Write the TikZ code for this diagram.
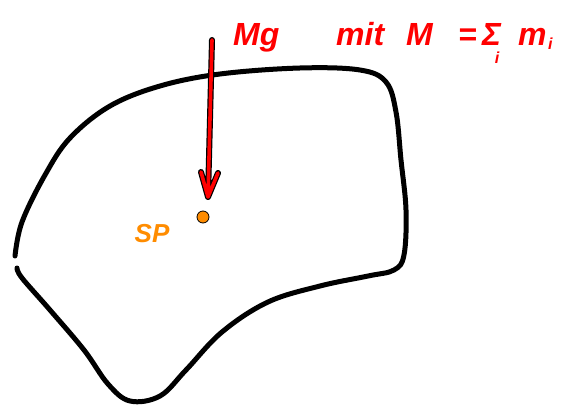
\documentclass[tikz,border=0pt]{standalone}
\usepackage{fontspec}
\setmainfont{Liberation Sans}
\begin{document}
\begin{tikzpicture}[x=1pt,y=-1pt,
  outline/.style={line width=5pt,black,line cap=round,line join=round},
  redback/.style={line width=6pt,black,line cap=round,line join=round},
  redfront/.style={line width=3.6pt,red,line cap=round,line join=round},
  redtext/.style={text=red,font=\bfseries\itshape\fontsize{32}{34}\selectfont,inner sep=0pt},
  redsmall/.style={text=red,font=\bfseries\itshape\fontsize{16}{18}\selectfont,inner sep=0pt},
  orangetext/.style={text=orange!90!yellow,font=\bfseries\itshape\fontsize{26}{28}\selectfont,inner sep=0pt}]
\useasboundingbox (0,0) rectangle (573,406);
% body outline
\draw[outline] plot[smooth,tension=0.6] coordinates {
 (15,256) (22,222) (45,175) (70,138) (110,106) (160,86) (220,74) (300,68)
 (360,70) (386,82) (396,112) (401,160) (406,210) (404,255) (394,270) (368,276)
 (320,286) (268,302) (222,332) (186,370) (160,396) (130,401) (108,384)
 (84,350) (50,310) (22,278) (17,268)};
% arrow
\coordinate (atop) at (212,40);
\coordinate (atip) at (208,197);
\coordinate (al) at (201,172);
\coordinate (ar) at (218,173);
\draw[redback] (atop) -- (atip) (al) -- (atip) -- (ar);
\draw[redfront] (atop) -- (atip) (al) -- (atip) -- (ar);
% centre of mass
\node[circle,fill=orange!90!yellow,draw=black,line width=0.8pt,minimum size=12pt,inner sep=0pt] (sp) at (203,217) {};
\node[orangetext] (splabel) at (152,234) {SP};
% texts
\node[redtext,anchor=base west] (mg) at (233,46) {Mg};
\node[redtext,anchor=base west] (mit) at (336,46) {mit};
\node[redtext,anchor=base west] (bigm) at (406,46) {M};
\node[redtext,anchor=base west] (eq) at (458,46) {=};
\node[redtext,anchor=base west] (sum) at (482,46) {Σ};
\node[redsmall,anchor=north] (sumi) at (497,52) {i};
\node[redtext,anchor=base west] (m) at (518,46) {m};
\node[redsmall,anchor=base west] (mi) at (548,50) {i};
\end{tikzpicture}
\end{document}
